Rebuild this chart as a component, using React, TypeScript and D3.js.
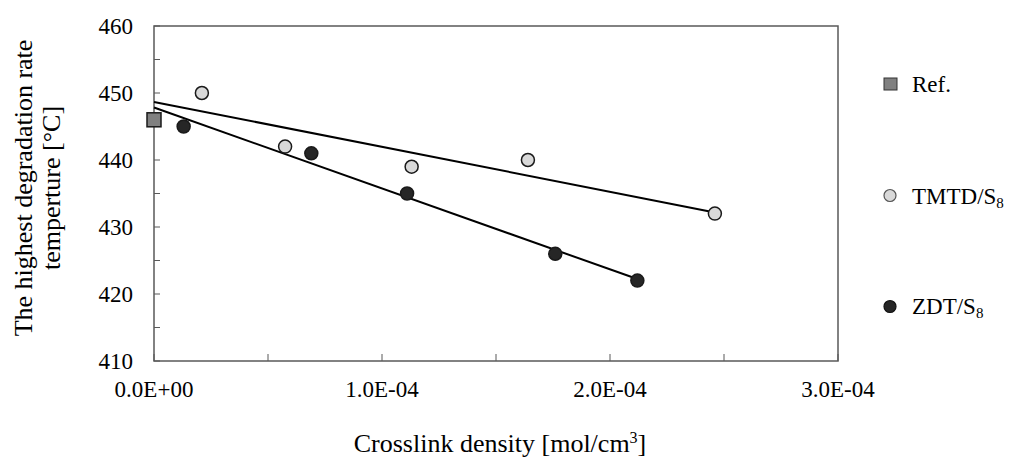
import React from "react";
import { scaleLinear, range, mean } from "d3";

// values
const refX = [0];
const refY = [446];
const tmtdX = [2.1e-5, 5.75e-5, 1.13e-4, 1.64e-4, 2.46e-4];
const tmtdY = [450, 442, 439, 440, 432];
const zdtX = [1.3e-5, 6.9e-5, 1.11e-4, 1.76e-4, 2.12e-4];
const zdtY = [445, 441, 435, 426, 422];

const xTicks = [0, 1e-4, 2e-4, 3e-4];
const yTicks = [410, 420, 430, 440, 450, 460];

const W = 1011;
const H = 459;
const FONT = "'Liberation Serif', 'Times New Roman', serif";

const left = 154, right = 838, top = 26, bottom = 361;

function fmtExp(v: number) {
  const s = v.toExponential(1).toUpperCase(); // e.g. 1.0E-4
  const [m, e] = s.split("E");
  const sign = e[0] === "-" ? "-" : "+";
  const digits = e.replace(/[+-]/, "").padStart(2, "0");
  return `${m}E${sign}${digits}`;
}

// least squares fit, like an Excel trendline
function fit(xs: number[], ys: number[]) {
  const mx = mean(xs)!, my = mean(ys)!;
  let sxy = 0, sxx = 0;
  xs.forEach((x, i) => {
    sxy += (x - mx) * (ys[i] - my);
    sxx += (x - mx) * (x - mx);
  });
  const slope = sxy / sxx;
  return { slope, icpt: my - slope * mx };
}

export default function App() {
  const x = scaleLinear().domain([0, 3e-4]).range([left, right]);
  const y = scaleLinear().domain([410, 460]).range([bottom, top]);

  const tFit = fit(tmtdX, tmtdY);
  const zFit = fit(zdtX, zdtY);
  const tEnd = Math.max(...tmtdX);
  const zEnd = Math.max(...zdtX);

  const xMinor = range(0, 3e-4 + 1e-9, 0.5e-4);
  const yMinor = range(410, 461, 5);

  const r = 6.5;
  const tFill = "#d9d9d9";
  const zFill = "#262626";
  const refFill = "#808080";
  const edge = "#1a1a1a";

  return (
    <svg width={W} height={H} style={{ position: "absolute", left: 0, top: 0 }} fontFamily={FONT}>
      <rect x={0} y={0} width={W} height={H} fill="#fff" />
      {/* frame */}
      <rect x={left} y={top} width={right - left} height={bottom - top} fill="none" stroke="#595959" strokeWidth={1.5} />
      {yMinor.map((v) => (
        <line key={"yt" + v} x1={left} x2={left + 6} y1={y(v)} y2={y(v)} stroke="#595959" strokeWidth={1} />
      ))}
      {xMinor.map((v, i) => (
        <line key={"xt" + i} x1={x(v)} x2={x(v)} y1={bottom} y2={bottom - 7} stroke="#595959" strokeWidth={1} />
      ))}
      {yTicks.map((v) => (
        <text key={"yl" + v} x={133} y={y(v) + 7.5} textAnchor="end" fontSize={23} fill="#000">{v}</text>
      ))}
      {xTicks.map((v) => (
        <text key={"xl" + v} x={x(v)} y={397} textAnchor="middle" fontSize={23} fill="#000">{fmtExp(v)}</text>
      ))}

      {/* trend lines */}
      <line x1={x(0)} y1={y(tFit.icpt)} x2={x(tEnd)} y2={y(tFit.icpt + tFit.slope * tEnd)} stroke="#000" strokeWidth={2} />
      <line x1={x(0)} y1={y(zFit.icpt)} x2={x(zEnd)} y2={y(zFit.icpt + zFit.slope * zEnd)} stroke="#000" strokeWidth={2} />

      {tmtdX.map((v, i) => (
        <circle key={"t" + i} cx={x(v)} cy={y(tmtdY[i])} r={r} fill={tFill} stroke={edge} strokeWidth={1.5} />
      ))}
      {zdtX.map((v, i) => (
        <circle key={"z" + i} cx={x(v)} cy={y(zdtY[i])} r={r} fill={zFill} stroke={edge} strokeWidth={1.5} />
      ))}
      {refX.map((v, i) => (
        <rect key={"r" + i} x={x(v) - 7} y={y(refY[i]) - 7} width={14} height={14} fill={refFill} stroke={edge} strokeWidth={1.5} />
      ))}

      {/* legend */}
      <rect x={884} y={78} width={13} height={12} fill={refFill} stroke="#333" strokeWidth={1} />
      <text x={912} y={92} fontSize={23}>Ref.</text>
      <circle cx={890} cy={195.5} r={6} fill={tFill} stroke="#555" strokeWidth={1.2} />
      <text x={912} y={204} fontSize={23}>TMTD/S<tspan fontSize={15} dy={4}>8</tspan></text>
      <circle cx={890} cy={306.5} r={6} fill={zFill} stroke="#111" strokeWidth={1.2} />
      <text x={912} y={314} fontSize={23}>ZDT/S<tspan fontSize={15} dy={4}>8</tspan></text>

      {/* axis titles */}
      <g transform="translate(32,188) rotate(-90)">
        <text x={0} y={0} textAnchor="middle" fontSize={26}>The highest degradation rate</text>
        <text x={0} y={28} textAnchor="middle" fontSize={26}>temperture [°C]</text>
      </g>
      <text x={500} y={452} textAnchor="middle" fontSize={26}>
        Crosslink density [mol/cm<tspan fontSize={16} dy={-9}>3</tspan><tspan dy={9}>]</tspan>
      </text>
    </svg>
  );
}
